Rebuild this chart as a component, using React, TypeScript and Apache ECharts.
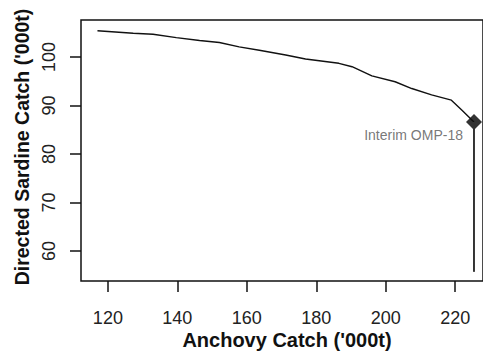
import React, { useEffect, useRef } from "react";
import * as echarts from "echarts";

const anchovyCatch = [117.0, 127.3, 133.0, 139.7, 146.4, 152.1, 157.8, 163.6, 171.2, 176.9, 186.5, 190.3, 196.0, 202.7, 207.5, 213.2, 218.9, 221.8, 225.4];
const sardineCatch = [105.4, 104.9, 104.7, 104.0, 103.4, 103.0, 102.1, 101.4, 100.4, 99.6, 98.7, 98.0, 96.1, 94.9, 93.5, 92.2, 91.1, 89.1, 86.6];
const ompPoint = [225.4, 86.6];
const ompLineBottom = 55.7;
const ompLabel = "Interim OMP-18";
const xTicks = [120, 140, 160, 180, 200, 220];
const yTicks = [60, 70, 80, 90, 100];
const xTitle = "Anchovy Catch ('000t)";
const yTitle = "Directed Sardine Catch ('000t)";

export default function App() {
  const ref = useRef<HTMLDivElement>(null);
  useEffect(() => {
    if (!ref.current) return;
    const chart = echarts.init(ref.current, null, { renderer: "svg" });
    const font = "'Liberation Sans', Arial, sans-serif";
    chart.setOption({
      animation: false,
      grid: { left: 81, top: 20, width: 404, height: 261, show: true, borderColor: "#111", borderWidth: 1.5, backgroundColor: "transparent" },
      xAxis: {
        type: "value",
        min: 112.26,
        max: 228.0,
        axisLine: { show: false },
        splitLine: { show: false },
        axisTick: { show: true, inside: false, length: 11, customValues: xTicks, lineStyle: { color: "#111", width: 1.5 } },
        axisLabel: { customValues: xTicks, margin: 28, fontSize: 18, color: "#222", fontFamily: font },
      },
      yAxis: {
        type: "value",
        min: 53.81,
        max: 107.63,
        axisLine: { show: false },
        splitLine: { show: false },
        axisTick: { show: true, inside: false, length: 11, customValues: yTicks, lineStyle: { color: "#111", width: 1.5 } },
        axisLabel: { customValues: yTicks, rotate: 90, margin: 23, fontSize: 18, color: "#222", fontFamily: font },
      },
      graphic: [
        { type: "text", x: 287, y: 340, style: { text: xTitle, font: `bold 20px ${font}`, fill: "#111", textAlign: "center", textVerticalAlign: "middle" } },
        { type: "text", x: 22, y: 147, rotation: Math.PI / 2, style: { text: yTitle, font: `bold 19.5px ${font}`, fill: "#111", textAlign: "center", textVerticalAlign: "middle" } },
      ],
      series: [
        {
          type: "line",
          data: anchovyCatch.map((x, i) => [x, sardineCatch[i]]),
          showSymbol: false,
          lineStyle: { color: "#111", width: 1.4 },
        },
        {
          type: "line",
          data: [[ompPoint[0], ompPoint[1]], [ompPoint[0], ompLineBottom]],
          showSymbol: false,
          lineStyle: { color: "#333", width: 2 },
        },
        {
          type: "scatter",
          data: [ompPoint],
          symbol: "diamond",
          symbolSize: 16,
          itemStyle: { color: "#000" },
          label: { show: true, position: "left", distance: 3, offset: [0, 13], formatter: ompLabel, fontSize: 14, color: "#555", fontFamily: font },
        },
      ],
    });
    return () => chart.dispose();
  }, []);
  return <div ref={ref} style={{ width: 483, height: 356, position: "absolute", left: 0, top: 0 }} />;
}
